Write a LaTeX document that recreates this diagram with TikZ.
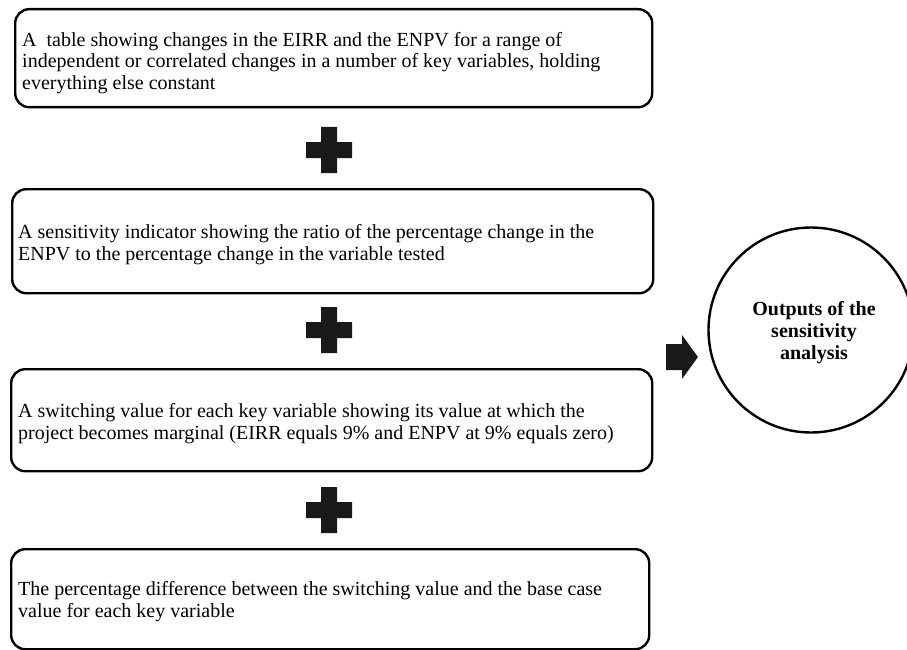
\documentclass[tikz,border=0pt]{standalone}
\usepackage{fontspec}
\setmainfont{Liberation Serif}

\begin{document}
\begin{tikzpicture}[x=1pt,y=-1pt,
  stepbox/.style={draw, line width=2.4pt, rounded corners=14pt, anchor=north west},
  % anchored at the baseline of the last line
  boxtext/.style={anchor=base west, align=left, inner sep=0pt, font=\fontsize{20}{21.7}\selectfont},
  solid shape/.style={fill=black!90},
  outcircle/.style={draw, circle, line width=2.4pt, minimum size=205pt, inner sep=0pt},
  outtext/.style={align=center, inner sep=0pt, font=\bfseries\fontsize{20}{22}\selectfont}
]
\useasboundingbox (0,0) rectangle (907,650);

% four statement boxes
\node[stepbox, minimum width=637pt, minimum height=98pt] (b1) at (14,8) {};
\node[stepbox, minimum width=641pt, minimum height=104pt] (b2) at (11,188) {};
\node[stepbox, minimum width=641pt, minimum height=102pt] (b3) at (10,368) {};
\node[stepbox, minimum width=638pt, minimum height=100pt] (b4) at (10,548) {};

\node[boxtext] (t1) at (22,89.5) {A\ \ table showing changes in the EIRR and the ENPV for a range of\\
independent or correlated changes in a number of key variables, holding\\
everything else constant};
\node[boxtext] (t2) at (18,260.5) {A sensitivity indicator showing the ratio of the percentage change in the\\
ENPV to the percentage change in the variable tested};
\node[boxtext] (t3) at (18,439) {A switching value for each key variable showing its value at which the\\
project becomes marginal (EIRR equals 9\% and ENPV at 9\% equals zero)};
\node[boxtext] (t4) at (18,617.5) {The percentage difference between the switching value and the base case\\
value for each key variable};

% plus signs between the boxes
\foreach \cy/\nm in {150/p1, 330/p2, 510/p3} {
  \coordinate (\nm) at (329,\cy);
  \fill[solid shape] ([shift={(-8,-23)}]\nm) -- ++(16,0) -- ++(0,15) -- ++(15,0) -- ++(0,16)
    -- ++(-15,0) -- ++(0,15) -- ++(-16,0) -- ++(0,-15) -- ++(-15,0) -- ++(0,-16)
    -- ++(15,0) -- cycle;
}

% block arrow towards the outputs
\coordinate (arr) at (666,331);
\fill[solid shape] ([yshift=-13]arr) -- ++(16,0) -- ++(0,-9) -- ++(16,22) -- ++(-16,22)
  -- ++(0,-9) -- ++(-16,0) -- cycle;

% outputs circle
\node[outcircle] (out) at (811,330) {};
\node[outtext] (outlabel) at (814,333) {Outputs of the\\sensitivity\\analysis};
\end{tikzpicture}
\end{document}
